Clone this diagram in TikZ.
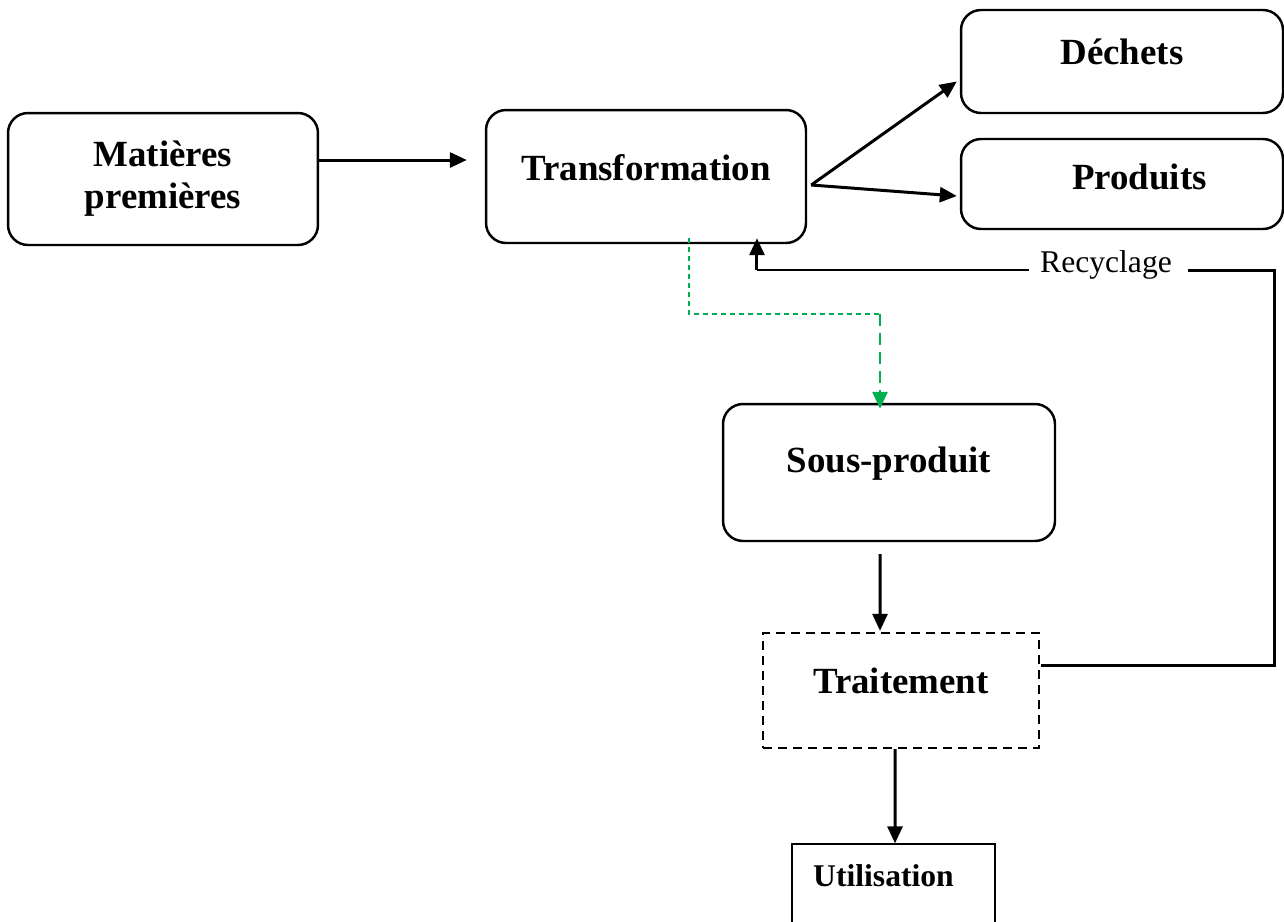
\documentclass[tikz,border=0pt]{standalone}
\usepackage{fontspec}
\setmainfont{Liberation Serif}
\usetikzlibrary{positioning,arrows.meta,calc}
\definecolor{vertflux}{RGB}{0,176,80}
\tikzset{
arr/.style={-{Triangle[length=0.34cm,width=0.3cm]}, line width=1.7pt}, % thick arrow
box/.style={draw, line width=1.4pt, rounded corners=0.4cm, align=center,
  font=\fontsize{21}{24}\selectfont\bfseries},
}
\begin{document}
\begin{tikzpicture}[x=0.02cm,y=-0.02cm]
\clip (0,0) rectangle (1284,921);
\fill[white] (0,0) rectangle (1284,921);
\node[box, minimum width=6.2cm, minimum height=2.64cm] (mat) at (163,179) {Matières\\premières};
\node[box, text depth=0.38cm, minimum width=6.4cm, minimum height=2.66cm] (trans) at (646,176.5) {Transformation};
\node[box, text depth=0.4cm, minimum width=6.44cm, minimum height=2.06cm] (dech) at (1122,61.5) {Déchets};
\node[box, text depth=0.28cm, minimum width=6.44cm, minimum height=1.8cm] (prod) at (1122,184) {\hspace{0.7cm}Produits};
\node[box, text depth=0.53cm, minimum width=6.64cm, minimum height=2.74cm] (sous) at (889,472.5) {Sous-produit};
\node[box, dash pattern=on 0.18cm off 0.12cm, rounded corners=0pt, text depth=0.38cm,
  minimum width=5.52cm, minimum height=2.3cm] (trait) at (901,690.5) {Traitement};
\node[draw, line width=0.8pt, text depth=0.64cm, minimum width=4.06cm, minimum height=1.92cm, align=center,
  font=\fontsize{18}{21}\selectfont\bfseries] (util) at (893.5,892) {Utilisation\hspace*{0.4cm}};

% flux principal
\draw[arr, shorten >=0.36cm] ([yshift=0.38cm]mat.east) -- ([yshift=0.38cm]mat.east -| trans.west);
\coordinate (split) at ([xshift=0.08cm,yshift=-0.17cm]trans.east);
\draw[arr] (split) -- ([xshift=-0.06cm,yshift=-0.4cm]dech.west);
\draw[arr] (split) -- ([xshift=-0.06cm,yshift=-0.24cm]prod.west);

% sous-produit
\coordinate (coude) at ([xshift=-0.18cm,yshift=1.78cm]sous.north);
\draw[vertflux, line width=0.9pt, dash pattern=on 0.1cm off 0.08cm] ([xshift=0.86cm,yshift=0.12cm]trans.south) |- (coude);
\draw[vertflux, line width=1.6pt, dash pattern=on 0.24cm off 0.14cm,
  -{Triangle[length=0.34cm,width=0.3cm]}] (coude) -- ([xshift=-0.18cm,yshift=-0.12cm]sous.north);
\draw[arr] ([xshift=-0.18cm,yshift=-0.24cm]sous.south) -- ([xshift=-0.42cm,yshift=0.02cm]trait.north);
\draw[arr] ([xshift=-0.12cm]trait.south) -- ([xshift=0.03cm]util.north);

% recyclage
\node[font=\fontsize{18}{21}\selectfont] (recy) at (1106,265) {Recyclage};
\coordinate (haut) at (1274,270);
\draw[line width=1.7pt] ([xshift=0.02cm,yshift=0.51cm]trait.east) -| (haut) -- ([xshift=0.2cm]recy.east |- haut);
\draw[line width=0.6pt] ([xshift=-0.1cm]recy.west |- haut) -- ([xshift=2.22cm]trans.south |- haut);
\draw[arr] ([xshift=2.22cm]trans.south |- haut) -- ([xshift=2.22cm,yshift=0.12cm]trans.south);
\end{tikzpicture}
\end{document}
